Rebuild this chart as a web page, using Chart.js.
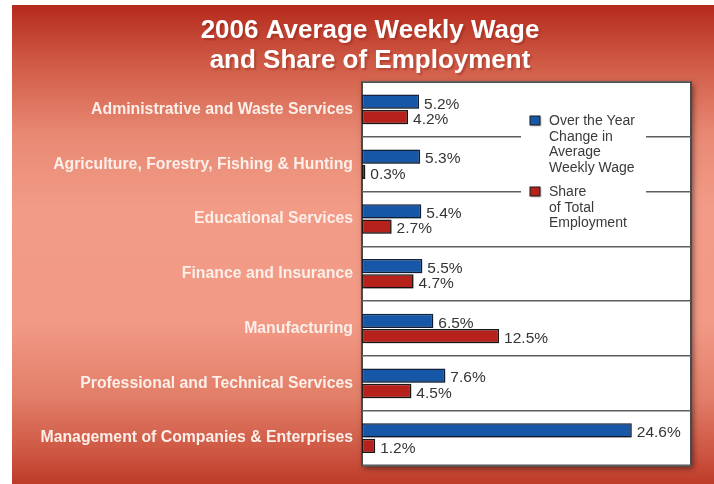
<!DOCTYPE html>
<html lang="en">
<head>
  <meta charset="UTF-8">
  <title>2006 Average Weekly Wage and Share of Employment</title>
  <script src="https://cdn.jsdelivr.net/npm/chart.js@4.4.1/dist/chart.umd.min.js"></script>
  <style>
    html, body { margin: 0; padding: 0; background: #fff; }
    #wrap { width: 714px; height: 484px; }
  </style>
</head>
<body>
  <div id="wrap">
    <canvas id="mychart" width="714" height="484"></canvas>
  </div>

  <script type="text/javascript">
    const titleLines = ['2006 Average Weekly Wage', 'and Share of Employment'];

    const industries = [
      'Administrative and Waste Services',
      'Agriculture, Forestry, Fishing & Hunting',
      'Educational Services',
      'Finance and Insurance',
      'Manufacturing',
      'Professional and Technical Services',
      'Management of Companies & Enterprises'
    ];

    // percent values
    const wageChange = [5.2, 5.3, 5.4, 5.5, 6.5, 7.6, 24.6];
    const employmentShare = [4.2, 0.3, 2.7, 4.7, 12.5, 4.5, 1.2];

    const legendLines = [
      ['Over the Year', 'Change in', 'Average', 'Weekly Wage'],
      ['Share', 'of Total', 'Employment']
    ];

    const FONT = "'Liberation Sans', Arial, Helvetica, sans-serif";
    Chart.defaults.font.family = FONT;

    // red panel + white plot box with shadow
    const backdrop = {
      id: 'backdrop',
      beforeDraw(chart) {
        const ctx = chart.ctx;
        const a = chart.chartArea;
        ctx.save();
        ctx.fillStyle = '#ffffff';
        ctx.fillRect(0, 0, chart.width, chart.height);
        const g = ctx.createLinearGradient(0, 5, 0, chart.height);
        g.addColorStop(0, '#b52a1c');
        g.addColorStop(0.12, '#cf5a45');
        g.addColorStop(0.27, '#e88973');
        g.addColorStop(0.42, '#f29b87');
        g.addColorStop(0.66, '#f29a86');
        g.addColorStop(0.82, '#e27e68');
        g.addColorStop(0.94, '#cc5440');
        g.addColorStop(1, '#bd3b28');
        ctx.fillStyle = g;
        ctx.fillRect(12, 5, chart.width - 12, chart.height - 5);

        ctx.shadowColor = 'rgba(0,0,0,0.55)';
        ctx.shadowBlur = 6;
        ctx.shadowOffsetX = 2;
        ctx.shadowOffsetY = 2;
        ctx.fillStyle = '#ffffff';
        ctx.fillRect(a.left, a.top, a.right - a.left, a.bottom - a.top);
        ctx.shadowColor = 'transparent';
        ctx.strokeStyle = '#4a4a4a';
        ctx.lineWidth = 2;
        ctx.strokeRect(a.left, a.top, a.right - a.left, a.bottom - a.top);

        ctx.fillStyle = '#ffffff';
        ctx.font = 'bold 26px ' + FONT;
        ctx.textAlign = 'center';
        ctx.textBaseline = 'middle';
        ctx.shadowColor = 'rgba(120,20,10,0.35)';
        ctx.shadowBlur = 2;
        titleLines.forEach((t, i) => ctx.fillText(t, 370, 31 + i * 30));
        ctx.restore();
      }
    };

    const barShadow = {
      id: 'barShadow',
      beforeDatasetsDraw(chart) {
        const ctx = chart.ctx;
        ctx.save();
        ctx.shadowColor = 'rgba(0,0,0,0.4)';
        ctx.shadowBlur = 3;
        ctx.shadowOffsetX = 1;
        ctx.shadowOffsetY = 1.5;
      },
      afterDatasetsDraw(chart) {
        chart.ctx.restore();
      }
    };

    // value labels next to each bar, and the boxed legend
    const annotate = {
      id: 'annotate',
      afterDraw(chart) {
        const ctx = chart.ctx;
        ctx.save();
        ctx.font = '15.5px ' + FONT;
        ctx.fillStyle = '#353535';
        ctx.textAlign = 'left';
        ctx.textBaseline = 'middle';
        chart.data.datasets.forEach((ds, i) => {
          chart.getDatasetMeta(i).data.forEach((bar, j) => {
            ctx.fillText(ds.data[j].toFixed(1) + '%', bar.x + 5, bar.y + 2.5);
          });
        });

        // legend background breaks the grid lines behind it
        ctx.fillStyle = '#ffffff';
        ctx.fillRect(521, 108, 125, 128);

        const tops = [120.5, 191.5];
        chart.data.datasets.forEach((ds, i) => {
          ctx.save();
          ctx.shadowColor = 'rgba(0,0,0,0.35)';
          ctx.shadowBlur = 2;
          ctx.shadowOffsetX = 1;
          ctx.shadowOffsetY = 1;
          ctx.fillStyle = ds.backgroundColor;
          ctx.fillRect(530, tops[i] - 4.5, 10, 9);
          ctx.restore();
          ctx.strokeStyle = '#1b1b1b';
          ctx.lineWidth = 1;
          ctx.strokeRect(530, tops[i] - 4.5, 10, 9);
          ctx.fillStyle = '#3a3a3a';
          ctx.font = '14px ' + FONT;
          legendLines[i].forEach((line, k) => {
            ctx.fillText(line, 549, tops[i] + 0.5 + k * 15.7);
          });
        });
        ctx.restore();
      }
    };

    const data = {
      labels: industries,
      datasets: [{
        label: legendLines[0].join(' '),
        data: wageChange,
        backgroundColor: '#1757a7',
        borderColor: '#15233d',
        borderWidth: 1.5,
        borderSkipped: false,
        categoryPercentage: 0.56,
        barPercentage: 0.93
      }, {
        label: legendLines[1].join(' '),
        data: employmentShare,
        backgroundColor: '#b6221b',
        borderColor: '#1b1b1b',
        borderWidth: 1.5,
        borderSkipped: false,
        categoryPercentage: 0.56,
        barPercentage: 0.93
      }]
    };

    const config = {
      type: 'bar',
      data: data,
      options: {
        indexAxis: 'y',
        responsive: false,
        animation: false,
        layout: {
          padding: { top: 82, left: 12, right: 23, bottom: 18 }
        },
        plugins: {
          legend: { display: false },
          tooltip: { enabled: false },
          title: { display: false }
        },
        scales: {
          x: {
            display: false,
            min: 0,
            max: 30
          },
          y: {
            border: { display: false },
            grid: {
              offset: true,
              drawTicks: false,
              color: '#5e5e5e',
              lineWidth: 1.5
            },
            ticks: {
              autoSkip: false,
              padding: 9,
              color: '#fcefe9',
              font: { size: 15.8, weight: 'bold' }
            },
            afterFit(scale) {
              scale.width = 350;
            }
          }
        }
      },
      plugins: [backdrop, barShadow, annotate]
    };

    var myChart = new Chart(
      document.getElementById('mychart'),
      config
    );
  </script>
</body>
</html>
